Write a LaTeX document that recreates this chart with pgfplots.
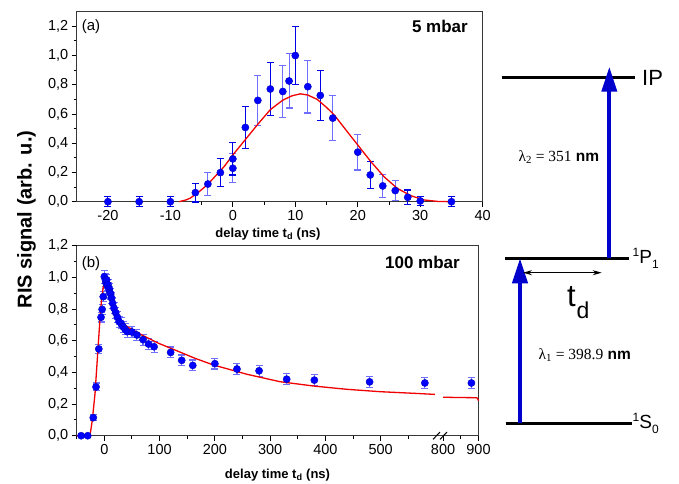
\documentclass[border=0pt]{standalone}
\usepackage{fontspec}
\setmainfont{Liberation Sans}
\newfontfamily\tnr{Liberation Serif}
\usepackage{pgfplots}
\pgfplotsset{compat=1.18}
\usetikzlibrary{arrows.meta}

\definecolor{ptblue}{RGB}{0,0,255}
\definecolor{bardark}{RGB}{0,0,230}
\definecolor{barlight}{RGB}{110,110,255}
\definecolor{arrblue}{RGB}{0,0,205}
\definecolor{fitred}{RGB}{240,0,0}
\definecolor{framegray}{RGB}{55,55,55}

\pgfplotsset{
  risbase/.style={
    scale only axis,
    anchor=south west,
    clip=false,
    axis line style={framegray, line width=1.2pt},
    tick style={black, line width=1pt},
    tick align=outside,
    major tick length=5pt,
    minor tick length=3pt,
    ymin=0,
    ytick={0,0.2,0.4,0.6,0.8,1.0,1.2},
    minor y tick num=1,
    /pgf/number format/assume math mode=true,
    tick label style={font=\fontsize{14.5}{16}\selectfont},
    yticklabel style={/pgf/number format/.cd, fixed, fixed zerofill, precision=1, use comma},
  },
  dots/.style={only marks, mark=*, mark size=3.6pt,
    mark options={fill=ptblue, draw=ptblue!75!black, line width=0.4pt},
    error bars/.cd, y dir=both, y explicit,
    error bar style={line width=1.1pt, #1},
    error mark options={rotate=90, line width=1.1pt, mark size=3.5pt, #1}},
  fit/.style={fitred, line width=1.3pt, no marks},
}

\begin{document}
\begin{tikzpicture}
\path[use as bounding box] (0pt,0pt) rectangle (679pt,483pt);

% ---- (a) 5 mbar ----
\begin{axis}[risbase, at={(76.7pt,281.3pt)}, width=406pt, height=190pt,
  xmin=-25, xmax=40, ymax=1.3, xtick={-20,-10,0,10,20,30,40}, minor x tick num=1,
  xtick pos=lower, ytick pos=left]
\addplot[dots=barlight] coordinates {
  (-4,0.121) +- (0,0.077) (0,0.229) +- (0,0.10) (4,0.693) +- (0,0.169)
  (8,0.754) +- (0,0.176) (9,0.826) +- (0,0.185) (12,0.787) +- (0,0.18)
  (16,0.572) +- (0,0.153) (20,0.339) +- (0,0.122) (24,0.108) +- (0,0.077)
  (26,0.076) +- (0,0.07)};
\addplot[dots=bardark] coordinates {
  (-20,0) +- (0,0.034) (-15,0) +- (0,0.034) (-10,0) +- (0,0.034)
  (-6,0.062) +- (0,0.064) (-2,0.199) +- (0,0.096) (0,0.293) +- (0,0.11)
  (2,0.508) +- (0,0.145) (6,0.771) +- (0,0.179) (10,1.0) +- (0,0.2)
  (14,0.727) +- (0,0.173) (22,0.183) +- (0,0.094) (28,0.03) +- (0,0.05)
  (30,0.005) +- (0,0.03) (35,0) +- (0,0.034)};
\addplot[fit] coordinates {(-8.6,0) (-7.5,0.012) (-6.8,0.025) (-5.5,0.065) (-4.1,0.115)
  (-2.8,0.175) (-1.4,0.24) (0,0.32) (2,0.425) (4,0.53) (6,0.63) (8,0.695) (9.5,0.725)
  (10.8,0.738) (12,0.73) (13.5,0.7) (15,0.645) (16.2,0.595) (18.3,0.48) (20.2,0.377)
  (22.1,0.274) (24.2,0.171) (26.3,0.092) (28.5,0.041) (30.6,0.012) (32.8,0.002) (35,0)};
\end{axis}

% ---- (b) 100 mbar, first segment ----
\begin{axis}[risbase, at={(76.7pt,47.3pt)}, width=362.8pt, height=190pt,
  xmin=-50, xmax=606.5, ymax=1.2, xtick={0,100,200,300,400,500},
  minor xtick={-50,50,150,250,350,450,550},
  axis x line*=box, axis y line*=left, xtick pos=lower, ytick pos=left]
\addplot[dots=barlight] coordinates {
  (-42,0) +- (0,0.01) (-30,0) +- (0,0.01) (-20,0.114) +- (0,0.02)
  (-15,0.308) +- (0,0.025) (-10,0.548) +- (0,0.03) (-6,0.748) +- (0,0.03)
  (-4,0.798) +- (0,0.03) (-2,0.878) +- (0,0.03) (0,1.004) +- (0,0.04)
  (2,0.985) +- (0,0.04) (3,0.965) +- (0,0.035) (4.3,0.984) +- (0,0.035)
  (5,0.95) +- (0,0.035) (6.7,0.952) +- (0,0.035) (8,0.93) +- (0,0.035)
  (9.1,0.925) +- (0,0.035) (10,0.905) +- (0,0.035) (11.5,0.895) +- (0,0.035)
  (13.3,0.868) +- (0,0.035) (15.1,0.836) +- (0,0.035) (17.5,0.805) +- (0,0.035)
  (20.6,0.777) +- (0,0.035) (23.6,0.748) +- (0,0.035) (26.6,0.72) +- (0,0.035)
  (30.2,0.71) +- (0,0.035) (33.8,0.689) +- (0,0.035) (37.5,0.672) +- (0,0.035)
  (41.6,0.657) +- (0,0.035) (50,0.655) +- (0,0.035) (59,0.636) +- (0,0.035)
  (70,0.607) +- (0,0.035) (80,0.579) +- (0,0.035) (90,0.562) +- (0,0.035)
  (120,0.526) +- (0,0.034) (140,0.476) +- (0,0.034) (160,0.444) +- (0,0.034)
  (200,0.455) +- (0,0.034) (240,0.421) +- (0,0.034) (280,0.410) +- (0,0.034)
  (330,0.357) +- (0,0.034) (380,0.351) +- (0,0.034) (480,0.340) +- (0,0.034)
  (580,0.333) +- (0,0.034)};
\addplot[fit] coordinates {(-50,0) (-26,0) (-21.7,0.1) (-16.8,0.268) (-13.2,0.457)
  (-9.6,0.647) (-7.2,0.773) (-4.8,0.868) (-1.8,0.941) (1.3,0.973) (4.3,0.963)
  (7.2,0.92) (10.3,0.868) (13.3,0.815) (16.3,0.773) (19.4,0.755) (25,0.733)
  (43,0.685) (68,0.636) (98,0.584) (128,0.541) (164,0.489) (197,0.447) (258,0.388)
  (318,0.341) (378,0.314) (439,0.293) (499,0.278) (559,0.268) (598,0.261)};
\end{axis}

% ---- (b) second segment ----
\begin{axis}[risbase, at={(439.5pt,47.3pt)}, width=39pt, height=190pt,
  xmin=790, xmax=900, ymax=1.2, xtick={800,900}, minor xtick={850},
  axis x line*=box, axis y line*=right, ytick=\empty, xtick pos=lower]
\addplot[dots=barlight] coordinates {(880,0.333) +- (0,0.034)};
\addplot[fit] coordinates {(800,0.243) (850,0.241) (895,0.240) (898,0.232) (900,0.221)};
\end{axis}

\begin{scope}[x=1pt, y=1pt]
% axis break marks
\draw[black, line width=1pt] (433,43.6) -- (440,51) (440,43.6) -- (447,51);

% labels
\node[anchor=base, font=\fontsize{13}{15}\selectfont\bfseries] at (268,246)
  {delay time t\textsubscript{d} (ns)};
\node[anchor=base, font=\fontsize{13}{15}\selectfont\bfseries] at (277.5,5)
  {delay time t\textsubscript{d} (ns)};
\node[rotate=90, anchor=base, font=\fontsize{20}{22}\selectfont\bfseries] at (31.7,263.5)
  {RIS signal (arb. u.)};
\node[anchor=base west, inner sep=0, font=\fontsize{15}{17}\selectfont] at (81.7,452) {(a)};
\node[anchor=base west, inner sep=0, font=\fontsize{15}{17}\selectfont] at (81.7,216) {(b)};
\node[anchor=base east, inner sep=0, font=\fontsize{17}{19}\selectfont\bfseries] at (468,450) {5 mbar};
\node[anchor=base east, inner sep=0, font=\fontsize{17}{19}\selectfont\bfseries] at (460,215) {100 mbar};

% energy level diagram
\draw[black, line width=3pt] (501.7,405.3) -- (635,405.3);
\draw[black, line width=3pt] (505,224.7) -- (629.3,224.7);
\draw[black, line width=3pt] (505.7,59.7) -- (632.3,59.7);
\draw[arrblue, line width=4pt, -{Triangle[length=25pt, width=15pt]}] (520,59.7) -- (520,224.7);
\draw[arrblue, line width=4pt, -{Triangle[length=25pt, width=15pt]}] (609.3,224.7) -- (609.3,416.3);
\draw[black, line width=1.1pt, {Stealth[length=9pt, width=5pt]}-{Stealth[length=9pt, width=5pt]}]
  (523,210.3) -- (601.7,210.3);
\node[anchor=base west, inner sep=0, font=\fontsize{22}{24}\selectfont] at (642,397) {IP};
\node[anchor=base west, inner sep=0, font=\fontsize{19}{21}\selectfont] at (632.5,219.7)
  {\raisebox{7pt}{\fontsize{12}{14}\selectfont 1}P\raisebox{-5pt}{\fontsize{12}{14}\selectfont 1}};
\node[anchor=base west, inner sep=0, font=\fontsize{19}{21}\selectfont] at (632.5,54.7)
  {\raisebox{7pt}{\fontsize{12}{14}\selectfont 1}S\raisebox{-5pt}{\fontsize{12}{14}\selectfont 0}};
\node[anchor=base west, inner sep=0, font=\fontsize{31}{33}\selectfont] at (567,176.3) {t};
\node[anchor=base west, inner sep=0, font=\fontsize{23}{25}\selectfont] at (576.5,164.7) {d};
\node[anchor=base west, inner sep=0, font=\fontsize{15.5}{17}\selectfont] at (518.3,321.3)
  {{\tnr λ\textsubscript{2} = 351} \textbf{nm}};
\node[anchor=base west, inner sep=0, font=\fontsize{15.5}{17}\selectfont] at (538.3,123.7)
  {{\tnr λ\textsubscript{1} = 398.9} \textbf{nm}};
\end{scope}
\end{tikzpicture}
\end{document}
